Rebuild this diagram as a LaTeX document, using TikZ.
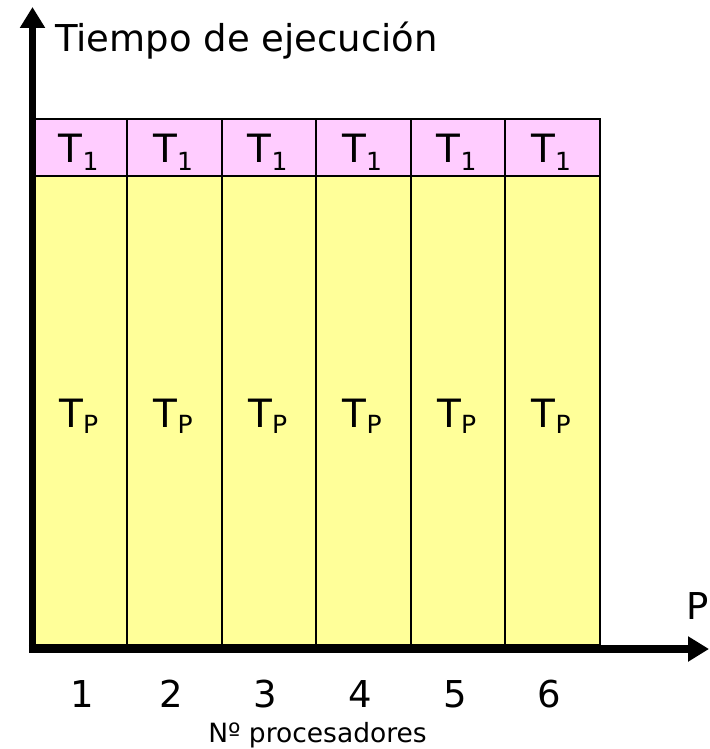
\documentclass[tikz,border=0pt]{standalone}
\usepackage{fontspec}
\setmainfont{DejaVu Sans}
\usetikzlibrary{arrows.meta}
\definecolor{pinkcell}{HTML}{FFCCFF}
\definecolor{yellowcell}{HTML}{FFFF99}
\begin{document}
\begin{tikzpicture}[x=1pt,y=-1pt,
  cellbox/.style={draw=black,line width=2pt,inner sep=0pt,minimum width=94.5pt},
  topcell/.style={cellbox,fill=pinkcell,minimum height=57pt},
  maincell/.style={cellbox,fill=yellowcell,minimum height=469pt},
  axisline/.style={line width=7.5pt,-{Triangle[length=21pt,width=24pt]}},
  lbl/.style={font=\fontsize{39}{39}\selectfont,inner sep=0pt,anchor=base},
  numlbl/.style={font=\fontsize{37}{37}\selectfont,inner sep=0pt,anchor=base},
  titlelbl/.style={font=\fontsize{37}{37}\selectfont,inner sep=0pt,anchor=base west},
  smalllbl/.style={font=\fontsize{26.5}{26.5}\selectfont,inner sep=0pt,anchor=base}]
\useasboundingbox (0,0) rectangle (709,749);
\foreach \i/\nx in {1/82,2/171,3/265,4/360,5/455,6/549}{
  \pgfmathsetmacro{\cx}{32.5+94.5*(\i-0.5)}
  \node[topcell] (top\i) at (\cx,147.5) {};
  \node[maincell] (main\i) at (\cx,410.5) {};
  \node[lbl] (tone\i) at (\cx-1,162) {T\raisebox{-8pt}{\fontsize{25}{25}\selectfont 1}};
  \node[lbl] (tp\i) at (\cx-1,427) {T\raisebox{-6pt}{\fontsize{25}{25}\selectfont P}};
  \node[numlbl] (num\i) at (\nx,707) {\i};
}
\coordinate (ybot) at (32.5,652.5);
\coordinate (xstart) at (28.75,649);
\coordinate (ytip) at (32.5,7);
\coordinate (xtip) at (709,649);
\draw[axisline] (ybot) -- (ytip);
\draw[axisline] (xstart) -- (xtip);
\node[titlelbl] (title) at (55,52) {Tiempo de ejecución};
\node[titlelbl] (plbl) at (686,619) {P};
\node[smalllbl] (xlabel) at (317.5,742) {Nº procesadores};
\end{tikzpicture}
\end{document}
